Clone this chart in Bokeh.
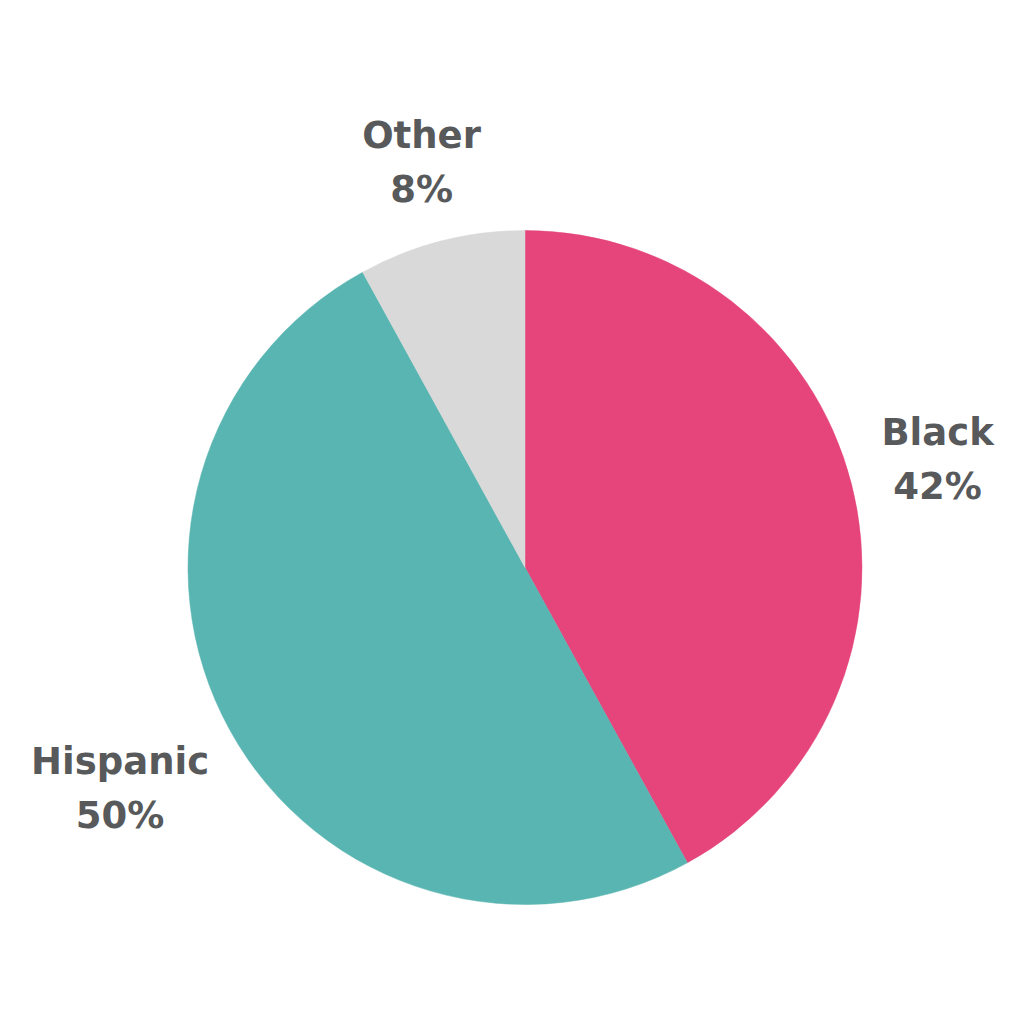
import math
from bokeh.plotting import figure
from bokeh.models import Range1d, ColumnDataSource
from bokeh.core.properties import value
from bokeh.embed import file_html
from bokeh.resources import INLINE

categories = ["Black", "Hispanic", "Other"]
shares = [42, 50, 8]
colors = ["#E5457B", "#58B5B1", "#D9D9D9"]
label_dist = [426, 462, 416]

W = 1008
p = figure(width=W, height=W, output_backend="svg", toolbar_location=None,
           x_range=Range1d(0, W), y_range=Range1d(0, W), min_border=0)
p.axis.visible = False
p.grid.visible = False
p.outline_line_color = None
p.background_fill_color = "white"
p.border_fill_color = "white"

cx, cy, r = 524.5, 1008 - 567, 337
total = sum(shares)
starts, ends, lx, ly, names, pcts = [], [], [], [], [], []
cum = 0.0
for cat, s, d in zip(categories, shares, label_dist):
    a0 = cum / total
    a1 = (cum + s) / total
    cum += s
    starts.append(math.pi / 2 - 2 * math.pi * a1)
    ends.append(math.pi / 2 - 2 * math.pi * a0)
    mid = (a0 + a1) / 2 * 2 * math.pi
    lx.append(cx + d * math.sin(mid))
    ly.append(cy + d * math.cos(mid))
    names.append(cat)
    pcts.append(f"{s}%")

src = ColumnDataSource(dict(start=starts, end=ends, color=colors,
                            lx=lx, ly=ly, name=names, pct=pcts))
p.wedge(x=cx, y=cy, radius=r, start_angle="start", end_angle="end",
        fill_color="color", line_color="color", line_width=0.5, source=src)

common = dict(text_font=value("DejaVu Sans"), text_font_style="bold",
              text_font_size="37px", text_color="#58595B",
              text_align="center", text_baseline="middle", source=src)
p.text(x="lx", y="ly", text="name", y_offset=-29, **common)
p.text(x="lx", y="ly", text="pct", y_offset=25, **common)

open("out.html", "w").write(file_html(p, INLINE))
